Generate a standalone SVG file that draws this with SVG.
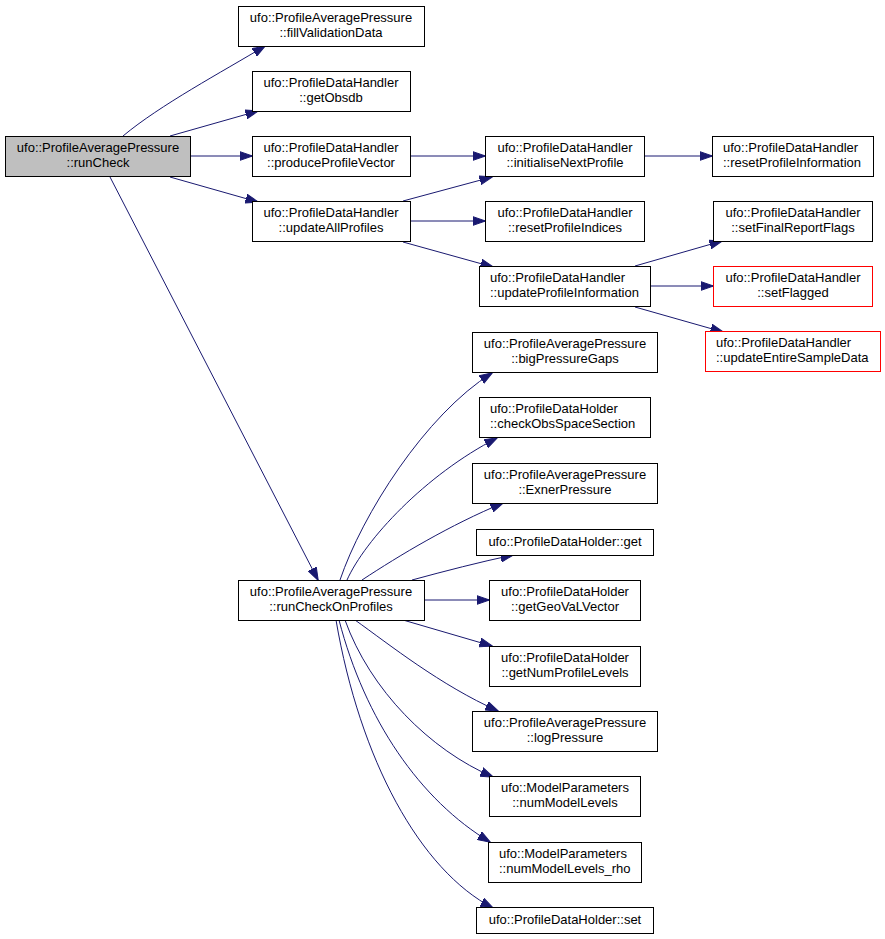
<svg xmlns="http://www.w3.org/2000/svg" width="885" height="939" viewBox="0 0 885 939">
<style>
.n rect{fill:#fff;stroke:#000;stroke-width:1}
.n.root rect{fill:#bfbfbf}
.n.red rect{stroke:#ff0000}
.n text{font-family:"Liberation Sans",Arial,sans-serif;font-size:13px;fill:#000;text-anchor:middle}
.n text.l{text-anchor:start}
#edges path{fill:none;stroke:#191970;stroke-width:1;marker-end:url(#ah)}
</style>
<defs>
<marker id="ah" markerUnits="userSpaceOnUse" markerWidth="13" markerHeight="10" viewBox="0 0 13 10" refX="12.5" refY="5" orient="auto">
<path d="M0,0.5 L13,5 L0,9.5 z" fill="#191970" stroke="#191970" stroke-width="1"/>
</marker>
</defs>
<rect width="885" height="939" fill="#fff"/>
<g id="edges">
<path d="M123,136 C160,105 222,72 265,46"/>
<path d="M170,136 L258,111"/>
<path d="M190,156 L252,156"/>
<path d="M170,177 L258,202"/>
<path d="M110,177 L318,580"/>
<path d="M410,156 L485,156"/>
<path d="M403,201 L492,177"/>
<path d="M410,221 L485,221"/>
<path d="M403,242 L493,267"/>
<path d="M644,156 L712,156"/>
<path d="M635,266 L722,241"/>
<path d="M650,286 L713,286"/>
<path d="M635,307 L723,332"/>
<path d="M340,580 C362,515 425,415 492,373"/>
<path d="M347,580 C365,540 425,475 497,438"/>
<path d="M362,580 C400,555 450,525 503,503"/>
<path d="M412,580 C445,571 480,562 513,555"/>
<path d="M424,600 L489,600"/>
<path d="M403,620 L492,646"/>
<path d="M355,620 C390,645 440,685 498,711"/>
<path d="M345,620 C370,690 430,750 493,777"/>
<path d="M339,620 C365,720 420,800 490,842"/>
<path d="M336,620 C360,760 420,870 493,908"/>
</g>
<g id="runCheck" class="n root"><rect x="5.5" y="136.5" width="185" height="40"/><text x="98" y="152">ufo::ProfileAveragePressure</text><text x="98" y="167">::runCheck</text></g>
<g id="fillValidationData" class="n"><rect x="238.5" y="6.5" width="186" height="40"/><text x="331" y="22">ufo::ProfileAveragePressure</text><text x="331" y="37">::fillValidationData</text></g>
<g id="getObsdb" class="n"><rect x="252.5" y="71.5" width="158" height="40"/><text x="331" y="87">ufo::ProfileDataHandler</text><text x="331" y="102">::getObsdb</text></g>
<g id="produceProfileVector" class="n"><rect x="252.5" y="136.5" width="158" height="40"/><text x="331" y="152">ufo::ProfileDataHandler</text><text x="331" y="167">::produceProfileVector</text></g>
<g id="updateAllProfiles" class="n"><rect x="252.5" y="201.5" width="158" height="40"/><text x="331" y="217">ufo::ProfileDataHandler</text><text x="331" y="232">::updateAllProfiles</text></g>
<g id="runCheckOnProfiles" class="n"><rect x="238.5" y="580.5" width="186" height="40"/><text x="331" y="596">ufo::ProfileAveragePressure</text><text x="331" y="611">::runCheckOnProfiles</text></g>
<g id="initialiseNextProfile" class="n"><rect x="485.5" y="136.5" width="159" height="40"/><text x="565" y="152">ufo::ProfileDataHandler</text><text x="565" y="167">::initialiseNextProfile</text></g>
<g id="resetProfileIndices" class="n"><rect x="485.5" y="201.5" width="159" height="40"/><text x="565" y="217">ufo::ProfileDataHandler</text><text x="565" y="232">::resetProfileIndices</text></g>
<g id="updateProfileInformation" class="n"><rect x="479.5" y="266.5" width="171" height="40"/><text class="l" x="490" y="282">ufo::ProfileDataHandler</text><text class="l" x="490" y="297">::updateProfileInformation</text></g>
<g id="resetProfileInformation" class="n"><rect x="712.5" y="136.5" width="161" height="40"/><text class="l" x="723" y="152">ufo::ProfileDataHandler</text><text class="l" x="723" y="167">::resetProfileInformation</text></g>
<g id="setFinalReportFlags" class="n"><rect x="713.5" y="201.5" width="159" height="40"/><text x="793" y="217">ufo::ProfileDataHandler</text><text x="793" y="232">::setFinalReportFlags</text></g>
<g id="setFlagged" class="n red"><rect x="713.5" y="266.5" width="159" height="40"/><text x="793" y="282">ufo::ProfileDataHandler</text><text x="793" y="297">::setFlagged</text></g>
<g id="updateEntireSampleData" class="n red"><rect x="705.5" y="331.5" width="175" height="40"/><text class="l" x="716" y="347">ufo::ProfileDataHandler</text><text class="l" x="716" y="362">::updateEntireSampleData</text></g>
<g id="bigPressureGaps" class="n"><rect x="472.5" y="332.5" width="185" height="40"/><text x="565" y="348">ufo::ProfileAveragePressure</text><text x="565" y="363">::bigPressureGaps</text></g>
<g id="checkObsSpaceSection" class="n"><rect x="479.5" y="397.5" width="171" height="40"/><text class="l" x="490" y="413">ufo::ProfileDataHolder</text><text class="l" x="490" y="428">::checkObsSpaceSection</text></g>
<g id="ExnerPressure" class="n"><rect x="472.5" y="463.5" width="185" height="40"/><text x="565" y="479">ufo::ProfileAveragePressure</text><text x="565" y="494">::ExnerPressure</text></g>
<g id="get" class="n"><rect x="476.5" y="529.5" width="177" height="26"/><text x="565" y="546">ufo::ProfileDataHolder::get</text></g>
<g id="getGeoVaLVector" class="n"><rect x="489.5" y="580.5" width="151" height="40"/><text x="565" y="596">ufo::ProfileDataHolder</text><text x="565" y="611">::getGeoVaLVector</text></g>
<g id="getNumProfileLevels" class="n"><rect x="489.5" y="646.5" width="151" height="40"/><text x="565" y="662">ufo::ProfileDataHolder</text><text x="565" y="677">::getNumProfileLevels</text></g>
<g id="logPressure" class="n"><rect x="472.5" y="711.5" width="185" height="40"/><text x="565" y="727">ufo::ProfileAveragePressure</text><text x="565" y="742">::logPressure</text></g>
<g id="numModelLevels" class="n"><rect x="489.5" y="776.5" width="151" height="40"/><text x="565" y="792">ufo::ModelParameters</text><text x="565" y="807">::numModelLevels</text></g>
<g id="numModelLevels_rho" class="n"><rect x="488.5" y="842.5" width="153" height="40"/><text class="l" x="499" y="858">ufo::ModelParameters</text><text class="l" x="499" y="873">::numModelLevels_rho</text></g>
<g id="set" class="n"><rect x="476.5" y="907.5" width="177" height="26"/><text x="565" y="924">ufo::ProfileDataHolder::set</text></g>
</svg>
